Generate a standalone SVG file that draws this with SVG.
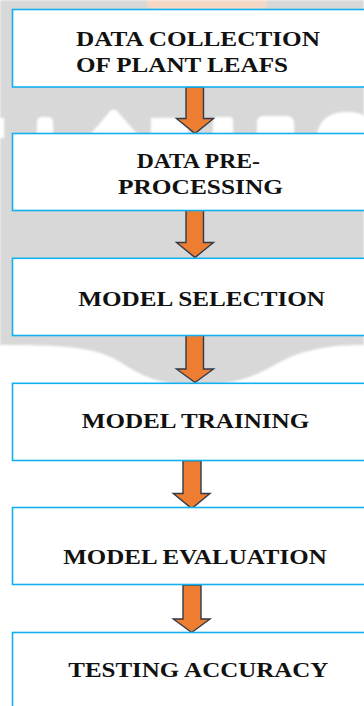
<svg xmlns="http://www.w3.org/2000/svg" width="364" height="706" viewBox="0 0 364 706">
  <style>
    .box { fill: #ffffff; stroke: #12b0ef; stroke-width: 1.6; }
    .lbl { font-family: "Liberation Serif", "Times New Roman", serif; font-weight: bold; font-size: 22px; fill: #111111; }
    .arrow { fill: #ed7d31; stroke: #2f3a4a; stroke-width: 1.4; stroke-linejoin: miter; }
    .wm { fill: #ffffff; }
  </style>
  <defs>
    <filter id="soft" x="-5%" y="-5%" width="110%" height="110%">
      <feGaussianBlur stdDeviation="0.8"/>
    </filter>
  </defs>

  <!-- page background -->
  <rect x="0" y="0" width="364" height="706" fill="#ffffff"/>
  <g id="backdrop" filter="url(#soft)">
    <path fill="#d8d8d8" d="M0,0 H364 V345 C330,345 305,349 280,362 C255,376 240,384 197,385 C156,384 142,376 120,362 C98,349 78,345 0,345 Z"/>
    <!-- pale peach band at the very top -->
    <path fill="#f6d8c6" d="M147,0 H267 V5 Q267,9 262,9 H152 Q147,9 147,5 Z"/>
    <!-- light lettering shapes behind the first gap -->
    <rect class="wm" x="0" y="118" width="4" height="20"/>
    <rect class="wm" x="37" y="117" width="16" height="22" rx="5"/>
    <path class="wm" d="M90,135 L111,110 H116 L138,135 Z"/>
    <path class="wm" d="M151,135 V118 H176 Q188,118 188,128 V135 Z"/>
    <rect class="wm" x="213" y="117" width="20" height="22" rx="4"/>
    <path class="wm" d="M257,135 V122 Q257,116 264,116 H286 Q294,116 294,124 V135 Z"/>
    <path class="wm" d="M317,135 Q320,113 345,112 Q360,112 364,116 V135 Z"/>
  </g>

  <!-- connectors -->
  <g id="connectors">
    <path class="arrow" d="M186,87 H203.5 V118.5 H213.5 L195,133.5 L176.5,118.5 H186 Z"/>
    <path class="arrow" d="M186,210 H203.5 V242.5 H213.5 L195,257.5 L176.5,242.5 H186 Z"/>
    <path class="arrow" d="M186,335 H203.5 V369 H213.5 L195,382.5 L176.5,369 H186 Z"/>
    <path class="arrow" d="M183,460.5 H201 V493.5 H210 L191.7,508.5 L173.3,493.5 H183 Z"/>
    <path class="arrow" d="M183,585 H201 V619 H210 L191.7,632.5 L173.3,619 H183 Z"/>
  </g>

  <!-- steps -->
  <g id="step-collection">
    <rect class="box" x="12.5" y="9.5" width="400" height="77.5"/>
    <text class="lbl" x="76" y="45.5" textLength="244" lengthAdjust="spacingAndGlyphs">DATA COLLECTION</text>
    <text class="lbl" x="76" y="71.5" textLength="212" lengthAdjust="spacingAndGlyphs">OF PLANT LEAFS</text>
  </g>
  <g id="step-preprocessing">
    <rect class="box" x="12.5" y="133.5" width="400" height="77"/>
    <text class="lbl" x="136.7" y="168.3" textLength="123.3" lengthAdjust="spacingAndGlyphs">DATA PRE-</text>
    <text class="lbl" x="118" y="194" textLength="165" lengthAdjust="spacingAndGlyphs">PROCESSING</text>
  </g>
  <g id="step-selection">
    <rect class="box" x="12.5" y="258.3" width="400" height="77.2"/>
    <text class="lbl" x="78.3" y="306" textLength="246.7" lengthAdjust="spacingAndGlyphs">MODEL SELECTION</text>
  </g>
  <g id="step-training">
    <rect class="box" x="12.5" y="383.3" width="400" height="77.2"/>
    <text class="lbl" x="81.7" y="428.3" textLength="227.6" lengthAdjust="spacingAndGlyphs">MODEL TRAINING</text>
  </g>
  <g id="step-evaluation">
    <rect class="box" x="12.5" y="507.5" width="400" height="77"/>
    <text class="lbl" x="63.3" y="564" textLength="263.4" lengthAdjust="spacingAndGlyphs">MODEL EVALUATION</text>
  </g>
  <g id="step-testing">
    <rect class="box" x="12.5" y="632.5" width="400" height="120"/>
    <text class="lbl" x="68.3" y="676.7" textLength="260" lengthAdjust="spacingAndGlyphs">TESTING ACCURACY</text>
  </g>
</svg>
